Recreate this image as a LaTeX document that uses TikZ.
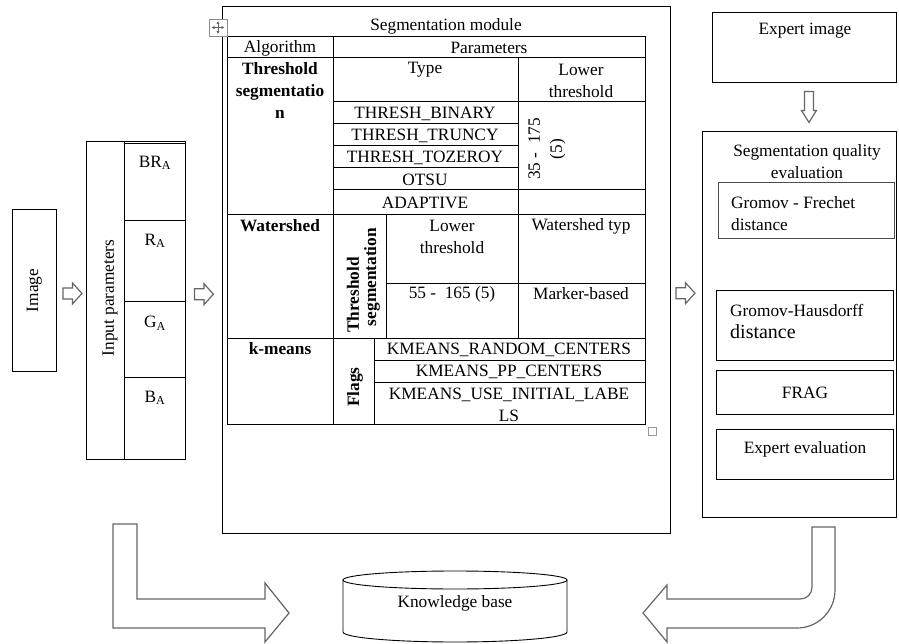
\documentclass[tikz,border=0pt]{standalone}
\usepackage{fontspec}
\setmainfont{Liberation Serif}
\usepackage{tikz}
\usetikzlibrary{arrows.meta,calc,positioning}

\begin{document}
\begin{tikzpicture}[x=1pt, y=-1pt,
  every node/.style={font=\fontsize{17.3}{22}\selectfont, inner sep=0pt},
  box/.style={draw, line width=0.9pt, anchor=north west},
  grid/.style={line width=1pt},
  hollow/.style={draw=black!60, line width=1.2pt, fill=white, line join=miter},
  hollow right/.pic={\draw[hollow] (-9.5,-5.5) -- (0,-5.5) -- (0,-10.5) -- (9.5,0) -- (0,10.5) -- (0,5.5) -- (-9.5,5.5) -- cycle;},
  hollow down/.pic={\draw[hollow] (-4.5,-15.5) -- (4.5,-15.5) -- (4.5,3.5) -- (7.5,3.5) -- (0,15.5) -- (-7.5,3.5) -- (-4.5,3.5) -- cycle;}]
  \useasboundingbox (0,0) rectangle (899,644);

  % image and input parameters
  \node[box, minimum width=44, minimum height=162] (img) at (12,209) {};
  \node[rotate=90] (imglab) at (img.center) {Image};
  \node[box, minimum width=99, minimum height=318] (inp) at (86,141) {};
  \draw[grid] (124,141) -- (124,459);
  \foreach \y in {144,221,301,377}
    \draw[grid] (124,\y) -- (185,\y);
  \node[rotate=90] (inplab) at (110,298) {Input parameters};
  \node (bra) at (155,163) {BR\textsubscript{A}};
  \node (ra) at (155,241) {R\textsubscript{A}};
  \node (ga) at (155,323) {G\textsubscript{A}};
  \node (ba) at (155,398) {B\textsubscript{A}};
  \pic at ($(img.east)!0.5!(inp.west) + (1,-2)$) {hollow right};

  % segmentation module
  \node[box, minimum width=448, minimum height=527] (seg) at (222,6) {};
  \pic at ($(inp.east)!0.5!(seg.west) + (0,9)$) {hollow right};
  \node (segtitle) at (446,26) {Segmentation module};
  \draw[grid] (227,37) rectangle (645,424);
  \foreach \y in {58,215,338}
    \draw[grid] (227,\y) -- (645,\y);
  \foreach \y in {102,190}
    \draw[grid] (333,\y) -- (645,\y);
  \foreach \y in {124,146,168}
    \draw[grid] (333,\y) -- (518,\y);
  \draw[grid] (386,283) -- (645,283);
  \draw[grid] (374,360) -- (645,360);
  \draw[grid] (374,382) -- (645,382);
  \draw[grid] (333,37) -- (333,424);
  \draw[grid] (518,58) -- (518,338);
  \draw[grid] (386,215) -- (386,338);
  \draw[grid] (374,338) -- (374,424);
  % table texts
  \node (algo) at (280,48) {Algorithm};
  \node (param) at (489,48) {Parameters};
  \node[align=center] (thr) at (280,91) {\textbf{Threshold}\\\textbf{segmentatio}\\\textbf{n}};
  \node (type) at (425,70) {Type};
  \node[align=center] (lowthr) at (581,81) {Lower\\threshold};
  \node (binary) at (425,114) {THRESH\_BINARY};
  \node (truncy) at (425,136) {THRESH\_TRUNCY};
  \node (tozero) at (425,158) {THRESH\_TOZEROY};
  \node (otsu) at (425,180) {OTSU};
  \node (adapt) at (425,203) {ADAPTIVE};
  \node[rotate=90, align=center] (range) at (547,149) {35 -\ \ 175\\(5)};
  \node (wshed) at (280,226) {\textbf{Watershed}};
  \node[rotate=90] (wthr) at (353,295) {\textbf{Threshold}};
  \node[rotate=90] (wseg) at (372,277) {\textbf{segmentation}};
  \node[align=center] (wlow) at (452,237) {Lower\\threshold};
  \node (wtyp) at (581,226) {Watershed typ};
  \node (wrange) at (452,294) {55 -\ \ 165 (5)};
  \node (marker) at (581,294) {Marker-based};
  \node (kmeans) at (280,349) {\textbf{k-means}};
  \node[rotate=90] (flags) at (355,387) {\textbf{Flags}};
  \node (krand) at (509,350) {KMEANS\_RANDOM\_CENTERS};
  \node (kpp) at (509,372) {KMEANS\_PP\_CENTERS};
  \node[align=center] (kuse) at (509,405) {KMEANS\_USE\_INITIAL\_LABE\\LS};
  % word handles
  \draw[black!45, fill=white] (209,19) rectangle (227,36);
  \draw[black!60, {Latex[length=3pt,width=3pt]}-{Latex[length=3pt,width=3pt]}] (211.5,27.5) -- (224.5,27.5);
  \draw[black!60, {Latex[length=3pt,width=3pt]}-{Latex[length=3pt,width=3pt]}] (218,21) -- (218,34);
  \draw[black!40] (648,427) rectangle (656,435);

  % evaluation
  \node[box, minimum width=184, minimum height=70] (expimg) at (712,12) {};
  \node (explab) at (805,31) {Expert image};
  \node[box, minimum width=194, minimum height=386] (evalbox) at (702,131) {};
  \pic at ($(expimg.south)!0.5!(evalbox.north) + (7,0)$) {hollow down};
  \pic at ($(seg.east)!0.5!(evalbox.west) + (-1,-4)$) {hollow right};
  \node[align=center] (evallab) at (807,162) {Segmentation quality\\evaluation};
  \node[box, draw=black!70, minimum width=176, minimum height=56] (gf) at (718,182) {};
  \node[align=left, anchor=west] (gflab) at (731,214) {Gromov - Frechet\\distance};
  \node[box, minimum width=177, minimum height=70] (gh) at (716,290) {};
  \node[align=left, anchor=west] (ghlab) at (730,322) {Gromov-Hausdorff\\{\fontsize{20}{23}\selectfont distance}};
  \node[box, minimum width=177, minimum height=44] (frag) at (716,370) {};
  \node (fraglab) at (frag.center) {FRAG};
  \node[box, minimum width=177, minimum height=50] (expev) at (716,429) {};
  \node (expevlab) at (805,449) {Expert evaluation};

  % knowledge base
  \draw[line width=0.9pt] (343,580) -- (343,632) arc[start angle=180, end angle=0, x radius=112, y radius=10] -- (567,580);
  \draw[line width=0.9pt] (455,580) ellipse [x radius=112, y radius=9];
  \node (kb) at (455,603) {Knowledge base};
  \draw[hollow] (113,524) -- (137,524) -- (137,599) -- (265,599) -- (265,583) -- (289,613) -- (265,642) -- (265,628) -- (113,628) -- cycle;
  \draw[hollow] (812,527) -- (835,527) -- (835,590) .. controls (835,611) and (818,628) .. (797,628) -- (667,628) -- (667,642) -- (643,613) -- (667,585) -- (667,599) -- (800,599) .. controls (807,599) and (812,594) .. (812,587) -- cycle;
\end{tikzpicture}
\end{document}
